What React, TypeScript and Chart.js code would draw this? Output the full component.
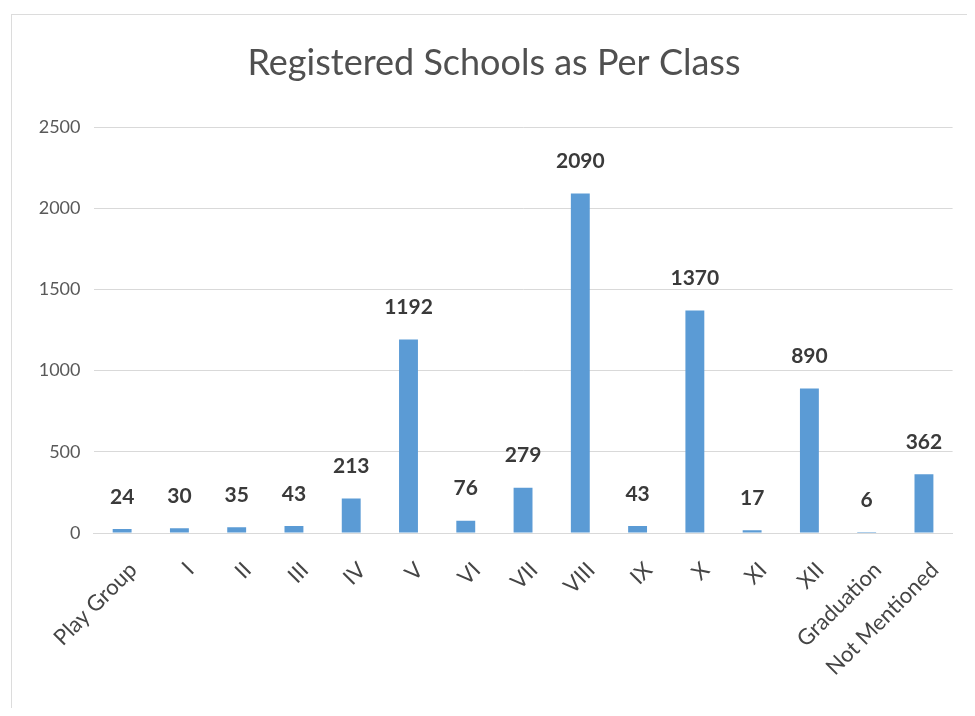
import React, { useEffect, useRef } from "react";
import { Chart, registerables } from "chart.js";

Chart.register(...registerables);

const categories = [
  "Play Group", "I", "II", "III", "IV", "V", "VI", "VII", "VIII", "IX", "X", "XI", "XII", "Graduation", "Not Mentioned",
];
const schools = [24, 30, 35, 43, 213, 1192, 76, 279, 2090, 43, 1370, 17, 890, 6, 362];
const yTicks = [0, 500, 1000, 1500, 2000, 2500];
const titleText = "Registered Schools as Per Class";

const FONT = "Lato, 'Open Sans', sans-serif";

const dataLabels = {
  id: "dataLabels",
  afterDatasetsDraw(chart: any) {
    const ctx = chart.ctx;
    const meta = chart.getDatasetMeta(0);
    ctx.save();
    ctx.font = `bold 21px ${FONT}`;
    ctx.fillStyle = "#3a3a3a";
    ctx.textAlign = "center";
    ctx.textBaseline = "middle";
    meta.data.forEach((el: any, i: number) => {
      ctx.fillText(String(schools[i]), el.x, el.y - 32);
    });
    ctx.restore();
  },
};

export default function App() {
  const ref = useRef<HTMLCanvasElement>(null);
  useEffect(() => {
    if (!ref.current) return;
    const chart = new Chart(ref.current, {
      type: "bar",
      data: {
        labels: categories,
        datasets: [
          {
            data: schools,
            backgroundColor: "#5b9bd5",
            categoryPercentage: 1,
            barPercentage: 0.33,
          },
        ],
      },
      options: {
        animation: false,
        responsive: false,
        layout: { padding: { left: 24.5, right: 11.5, top: 0, bottom: 0 } },
        plugins: {
          legend: { display: false },
          tooltip: { enabled: false },
          title: {
            display: true,
            text: titleText,
            color: "#505050",
            font: { family: FONT, size: 36, weight: "normal", lineHeight: 1.2 },
            padding: { top: 33.4, bottom: 42.4 },
          },
        },
        scales: {
          x: {
            grid: { display: false, drawTicks: false },
            border: { display: true, color: "#d9d9d9" },
            ticks: {
              color: "#454545",
              font: { family: FONT, size: 22 },
              minRotation: 45,
              maxRotation: 45,
              padding: 24,
              labelOffset: 11,
              autoSkip: false,
            },
            afterFit(scale: any) {
              scale.height = 175;
            },
          },
          y: {
            min: 0,
            max: 2500,
            afterBuildTicks(scale: any) {
              scale.ticks = yTicks.map((v) => ({ value: v }));
            },
            grid: { color: "#d9d9d9", drawTicks: false },
            border: { display: false },
            ticks: {
              color: "#595959",
              font: { family: FONT, size: 18 },
              padding: 13,
              callback: (v: any) => String(v),
            },
            afterFit(scale: any) {
              scale.width = 61;
            },
          },
        },
      },
      plugins: [dataLabels],
    });
    return () => chart.destroy();
  }, []);
  return (
    <div style={{ position: "relative", width: 959, height: 700 }}>
      <div
        style={{
          position: "absolute",
          left: 3,
          top: 6,
          width: 960,
          height: 720,
          borderLeft: "1px solid #dcdcdc",
          borderTop: "1px solid #dcdcdc",
          borderRight: "1px solid #dcdcdc",
          pointerEvents: "none",
        }}
      />
      <canvas ref={ref} width={959} height={700} style={{ position: "relative", display: "block" }} />
    </div>
  );
}
